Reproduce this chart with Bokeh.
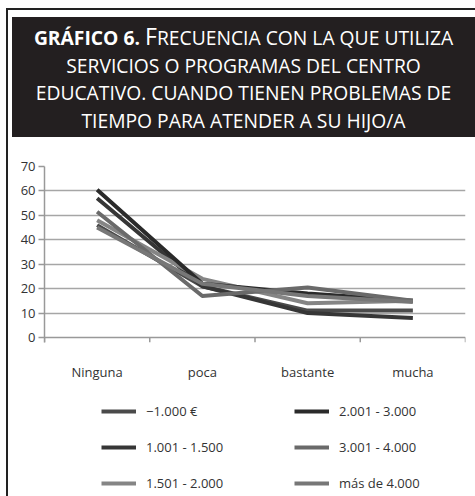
from bokeh.plotting import figure
from bokeh.models import (Range1d, FactorRange, FixedTicker, Legend, LegendItem, Div,
                          Span, ColumnDataSource)
from bokeh.transform import dodge
from bokeh.layouts import column
from bokeh.embed import file_html
from bokeh.resources import INLINE

# ---- data -------------------------------------------------------------
categories = ["Ninguna", "poca", "bastante", "mucha"]
series_names = ["\u22121.000 \u20ac", "1.001 - 1.500", "1.501 - 2.000",
                "2.001 - 3.000", "3.001 - 4.000", "más de 4.000"]
s_menos_1000 = [46, 21, 11, 11]
s_1001_1500 = [57, 21, 10, 8]
s_1501_2000 = [48, 24, 14, 15]
s_2001_3000 = [60.5, 22, 18, 15]
s_3001_4000 = [51.5, 17, 20.5, 15]
s_mas_4000 = [45, 22, 17, 14.5]
series_values = [s_menos_1000, s_1001_1500, s_1501_2000,
                 s_2001_3000, s_3001_4000, s_mas_4000]
series_colors = ["#4a4a4a", "#363636", "#858585", "#2a2a2a", "#6a6a6a", "#777777"]
y_ticks = [0, 10, 20, 30, 40, 50, 60, 70]

FONT = "Open Sans"
TICK_DEPTH = 2.05  # tick length below the 0 line, in y units (~5px)

# ---- title ------------------------------------------------------------
title_html = (
    '<div style="width:463px;height:120px;box-sizing:border-box;background:#231f20;'
    'color:#ffffff;font-family:\'Open Sans\';font-size:19.3px;line-height:27.5px;'
    'text-align:center;text-transform:uppercase;padding-top:6px;">'
    '<b>gráfico 6.</b> <span style="font-size:23px">F</span>recuencia con la que utiliza<br>'
    'servicios o programas del centro<br>'
    'educativo. cuando tienen problemas de<br>'
    'tiempo para atender a su hijo/a</div>'
)
title = Div(text=title_html, width=463, height=120, margin=(7, 0, 0, 4))

# ---- chart ------------------------------------------------------------
p = figure(x_range=FactorRange(factors=categories, range_padding=0),
           y_range=Range1d(-TICK_DEPTH, y_ticks[-1]), width=467, height=255,
           output_backend="svg", toolbar_location=None,
           min_border_left=36, min_border_right=10, min_border_top=29,
           min_border_bottom=50, outline_line_color=None)

p.xgrid.grid_line_color = None
p.ygrid.grid_line_color = "#a6a6a6"
p.ygrid.grid_line_width = 1.5
p.ygrid.ticker = FixedTicker(ticks=y_ticks[1:])

# x axis line at 0 and category-boundary ticks
p.add_layout(Span(location=0, dimension="width", line_color="#999999", line_width=1.5))
lo = ColumnDataSource(dict(cat=categories, y0=[0] * len(categories),
                           y1=[-TICK_DEPTH] * len(categories)))
p.segment(x0=dodge("cat", -0.5, range=p.x_range), x1=dodge("cat", -0.5, range=p.x_range),
          y0="y0", y1="y1", source=lo, line_color="#999999", line_width=1.5)
last = ColumnDataSource(dict(cat=[categories[-1]], y0=[0], y1=[-TICK_DEPTH]))
p.segment(x0=dodge("cat", 0.5, range=p.x_range), x1=dodge("cat", 0.5, range=p.x_range),
          y0="y0", y1="y1", source=last, line_color="#999999", line_width=1.5)

for vals, col in zip(series_values, series_colors):
    p.line(x=categories, y=vals, line_width=4, line_color=col, line_join="round")

yax = p.yaxis[0]
yax.ticker = FixedTicker(ticks=y_ticks)
yax.axis_line_color = "#999999"
yax.axis_line_width = 1.5
yax.major_tick_line_color = "#999999"
yax.major_tick_line_width = 1.5
yax.major_tick_out = 6
yax.major_tick_in = 0
yax.minor_tick_line_color = None
yax.major_label_standoff = 3
yax.major_label_text_font = FONT
yax.major_label_text_font_size = "13px"
yax.major_label_text_color = "#333333"

xax = p.xaxis[0]
xax.axis_line_color = None
xax.major_tick_line_color = None
xax.major_label_standoff = 14
xax.major_label_text_font = FONT
xax.major_label_text_font_size = "13px"
xax.major_label_text_color = "#333333"

# ---- legend panel -----------------------------------------------------
q = figure(x_range=FactorRange(factors=categories), y_range=Range1d(0, y_ticks[-1]),
           width=467, height=104, output_backend="svg", toolbar_location=None,
           x_axis_location=None, y_axis_location=None, min_border=0,
           outline_line_color=None)
q.grid.grid_line_color = None
leg_renderers = []
for vals, col in zip(series_values, series_colors):
    r = q.line(x=categories, y=vals, line_width=4, line_color=col, visible=False)
    leg_renderers.append(r)

items = [LegendItem(label=n, renderers=[r]) for n, r in zip(series_names, leg_renderers)]
legend = Legend(items=items, location=(57, 3), orientation="vertical", nrows=3,
                glyph_width=35, glyph_height=20, label_height=20, label_width=132,
                label_standoff=10, spacing=16, padding=0, margin=0,
                click_policy="none",
                label_text_font=FONT, label_text_font_size="13px",
                label_text_color="#333333", background_fill_alpha=0,
                border_line_color=None)
q.add_layout(legend, "center")

layout = column(title, p, q, margin=(8, 0, 0, 6),
                styles={"border-left": "2px solid #222222",
                        "border-top": "2px solid #222222"})

open("out.html", "w").write(file_html(layout, INLINE))
